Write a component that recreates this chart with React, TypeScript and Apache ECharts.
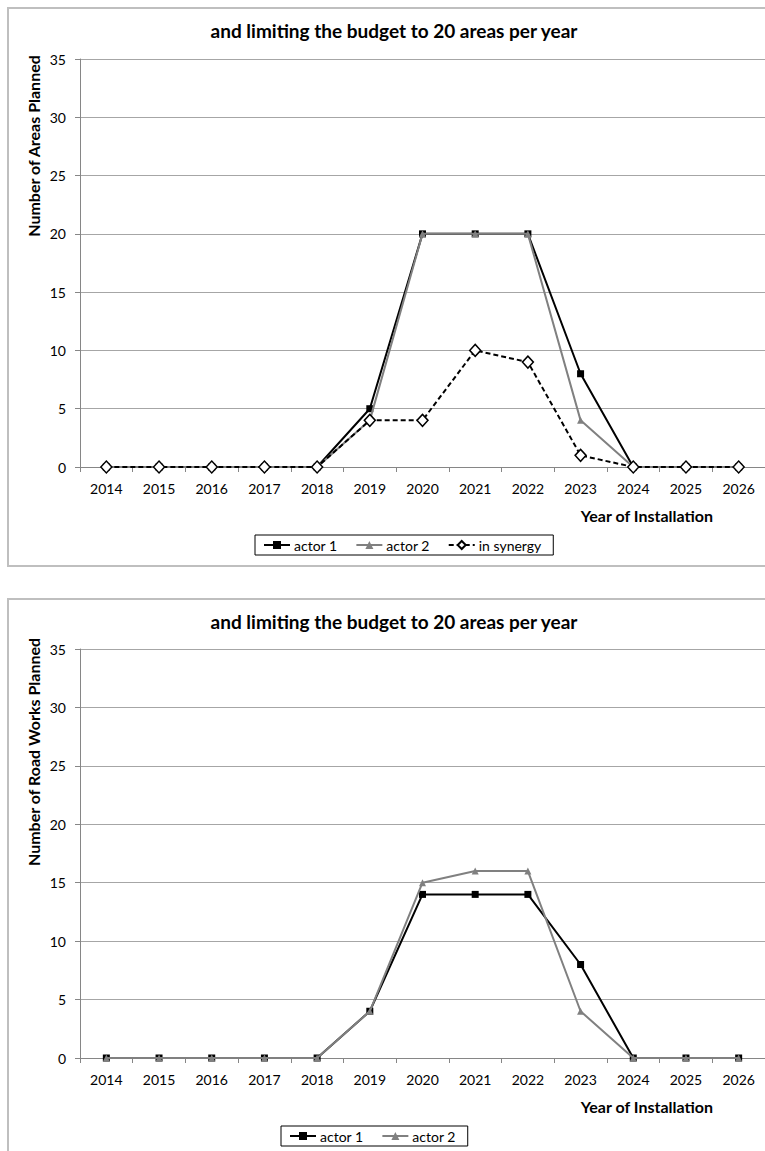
import React, { useEffect, useRef } from "react";
import * as echarts from "echarts";

const years = ["2014", "2015", "2016", "2017", "2018", "2019", "2020", "2021", "2022", "2023", "2024", "2025", "2026"];

const areasActor1 = [0, 0, 0, 0, 0, 5, 20, 20, 20, 8, 0, 0, 0];
const areasActor2 = [0, 0, 0, 0, 0, 4, 20, 20, 20, 4, 0, 0, 0];
const areasSynergy = [0, 0, 0, 0, 0, 4, 4, 10, 9, 1, 0, 0, 0];

const roadActor1 = [0, 0, 0, 0, 0, 4, 14, 14, 14, 8, 0, 0, 0];
const roadActor2 = [0, 0, 0, 0, 0, 4, 15, 16, 16, 4, 0, 0, 0];

const chartTitle = "and limiting the budget to 20 areas per year";
const yTitle1 = "Number of Areas Planned";
const yTitle2 = "Number of Road Works Planned";
const xTitle = "Year of Installation";

const FONT = "Lato, 'Open Sans', sans-serif";
const GRID_COLOR = "#a6a6a6";
const AXIS_COLOR = "#868686";

export default function App() {
  const ref = useRef<HTMLDivElement>(null);

  useEffect(() => {
    if (!ref.current) return;
    const chart = echarts.init(ref.current, undefined, { renderer: "svg" });

    const xAxisBase = (gridIndex: number) => ({
      type: "category" as const,
      gridIndex,
      data: years,
      boundaryGap: true,
      axisLine: { show: true, lineStyle: { color: AXIS_COLOR, width: 1 } },
      axisTick: { show: true, interval: 0, length: 5, lineStyle: { color: AXIS_COLOR } },
      axisLabel: { color: "#000", fontSize: 14, fontFamily: FONT, margin: 14, interval: 0 },
      splitLine: { show: false },
    });

    const yAxisBase = (gridIndex: number) => ({
      type: "value" as const,
      gridIndex,
      min: 0,
      max: 35,
      interval: 5,
      axisLine: { show: true, lineStyle: { color: AXIS_COLOR, width: 1 } },
      axisTick: { show: true, length: 5, lineStyle: { color: AXIS_COLOR } },
      axisLabel: { color: "#000", fontSize: 14, fontFamily: FONT, margin: 14 },
      splitLine: { show: true, lineStyle: { color: GRID_COLOR, width: 1 } },
    });

    const actor1Style = (xi: number, data: number[]) => ({
      name: "actor 1",
      type: "line" as const,
      xAxisIndex: xi,
      yAxisIndex: xi,
      data,
      symbol: "rect",
      symbolSize: 7,
      lineStyle: { color: "#000", width: 2 },
      itemStyle: { color: "#000" },
      z: 2,
    });
    const actor2Style = (xi: number, data: number[]) => ({
      name: "actor 2",
      type: "line" as const,
      xAxisIndex: xi,
      yAxisIndex: xi,
      data,
      symbol: "triangle",
      symbolSize: 7,
      lineStyle: { color: "#808080", width: 2 },
      itemStyle: { color: "#808080" },
      z: 3,
    });

    const textStyleBold = { fontFamily: FONT, fontWeight: "bold" as const, fill: "#000" };
    const legendText = { fontFamily: FONT, fontSize: 14, color: "#000", padding: [0, 0, 0, -1] };

    chart.setOption({
      animation: false,
      backgroundColor: "#fff",
      grid: [
        { left: 80, top: 59, width: 685, height: 408 },
        { left: 80, top: 649, width: 685, height: 409 },
      ],
      xAxis: [xAxisBase(0), xAxisBase(1)],
      yAxis: [yAxisBase(0), yAxisBase(1)],
      legend: [
        {
          left: 255,
          top: 535,
          data: ["actor 1", "actor 2", "in synergy"],
          itemWidth: 26,
          itemHeight: 10,
          itemGap: 18,
          padding: [3, 12, 3, 8],
          borderColor: "#000",
          borderWidth: 1,
          selectedMode: false,
          textStyle: legendText,
        },
        {
          left: 281,
          top: 1126,
          data: ["actor 1", "actor 2"],
          itemWidth: 26,
          itemHeight: 10,
          itemGap: 18,
          padding: [3, 12, 3, 8],
          borderColor: "#000",
          borderWidth: 1,
          selectedMode: false,
          textStyle: legendText,
        },
      ],
      series: [
        actor1Style(0, areasActor1),
        actor2Style(0, areasActor2),
        {
          name: "in synergy",
          type: "line",
          xAxisIndex: 0,
          yAxisIndex: 0,
          data: areasSynergy,
          symbol: "diamond",
          symbolSize: [11, 12],
          lineStyle: { color: "#000", width: 2, type: [5, 3] },
          itemStyle: { color: "#fff", borderColor: "#000", borderWidth: 1.5 },
          z: 4,
        },
        actor1Style(1, roadActor1),
        actor2Style(1, roadActor2),
      ],
      graphic: [
        { type: "rect", shape: { x: 8, y: 8, width: 800, height: 558 }, style: { fill: "none", stroke: "#bfbfbf", lineWidth: 2 }, silent: true, z: -1 },
        { type: "rect", shape: { x: 8, y: 599, width: 800, height: 620 }, style: { fill: "none", stroke: "#bfbfbf", lineWidth: 2 }, silent: true, z: -1 },
        { type: "text", x: 394, y: 30, style: { ...textStyleBold, text: chartTitle, fontSize: 19, textAlign: "center", textVerticalAlign: "middle" } },
        { type: "text", x: 394, y: 621, style: { ...textStyleBold, text: chartTitle, fontSize: 19, textAlign: "center", textVerticalAlign: "middle" } },
        { type: "text", x: 33, y: 146, rotation: Math.PI / 2, style: { ...textStyleBold, text: yTitle1, fontSize: 16, textAlign: "center", textVerticalAlign: "middle" } },
        { type: "text", x: 33, y: 752, rotation: Math.PI / 2, style: { ...textStyleBold, text: yTitle2, fontSize: 16, textAlign: "center", textVerticalAlign: "middle" } },
        { type: "text", x: 713, y: 515, style: { ...textStyleBold, text: xTitle, fontSize: 16, textAlign: "right", textVerticalAlign: "middle" } },
        { type: "text", x: 713, y: 1106, style: { ...textStyleBold, text: xTitle, fontSize: 16, textAlign: "right", textVerticalAlign: "middle" } },
      ],
    });

    return () => chart.dispose();
  }, []);

  return (
    <div
      ref={ref}
      style={{ position: "absolute", left: 0, top: 0, width: 765, height: 1151, overflow: "hidden" }}
    />
  );
}
